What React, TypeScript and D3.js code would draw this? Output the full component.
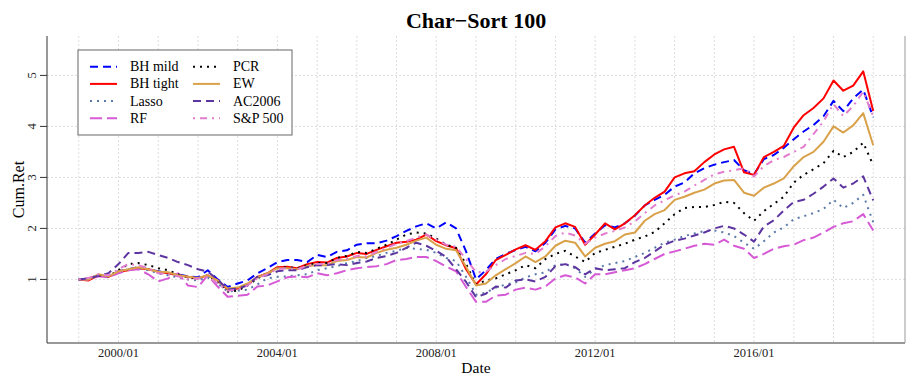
import React from 'react'
import * as d3 from 'd3'

const W = 913
const H = 381

// quarterly observations, 1999/01 .. 2019/01
const dates: Date[] = d3.timeMonth.every(3)!.range(new Date(1999, 0, 1), new Date(2019, 0, 2))

const bhMild = [
  1.00, 1.00, 1.08, 1.06, 1.16, 1.20, 1.24, 1.20, 1.16, 1.12, 1.10, 1.06, 1.04, 1.18, 1.00, 0.85,
  0.92, 0.98, 1.12, 1.22, 1.34, 1.38, 1.38, 1.34, 1.48, 1.44, 1.54, 1.57, 1.68, 1.71, 1.71, 1.76,
  1.85, 1.95, 2.04, 2.10, 2.00, 2.12, 2.00, 1.55, 1.00, 1.18, 1.40, 1.50, 1.58, 1.64, 1.55, 1.72,
  1.98, 2.05, 2.00, 1.72, 1.90, 2.06, 2.02, 2.10, 2.25, 2.45, 2.56, 2.66, 2.82, 2.90, 3.08, 3.18,
  3.25, 3.30, 3.34, 3.14, 3.06, 3.36, 3.44, 3.58, 3.75, 3.90, 4.03, 4.20, 4.50, 4.30, 4.55, 4.72,
  4.18,
]
const bhTight = [
  1.00, 0.98, 1.08, 1.05, 1.15, 1.18, 1.22, 1.20, 1.15, 1.12, 1.08, 1.05, 1.02, 1.08, 0.98, 0.80,
  0.82, 0.90, 1.05, 1.12, 1.24, 1.25, 1.22, 1.30, 1.34, 1.33, 1.42, 1.45, 1.52, 1.50, 1.58, 1.65,
  1.72, 1.74, 1.78, 1.88, 1.75, 1.67, 1.61, 1.20, 0.90, 1.10, 1.38, 1.48, 1.59, 1.67, 1.58, 1.75,
  2.02, 2.10, 2.03, 1.68, 1.88, 2.10, 1.98, 2.10, 2.26, 2.45, 2.60, 2.72, 3.00, 3.08, 3.12, 3.30,
  3.45, 3.55, 3.60, 3.10, 3.05, 3.40, 3.50, 3.62, 3.98, 4.22, 4.36, 4.55, 4.90, 4.70, 4.80, 5.08,
  4.30,
]
const lasso = [
  1.00, 1.00, 1.08, 1.05, 1.14, 1.20, 1.22, 1.18, 1.12, 1.08, 1.04, 1.00, 0.98, 1.04, 0.92, 0.76,
  0.78, 0.80, 0.90, 1.02, 1.05, 1.06, 1.08, 1.10, 1.18, 1.22, 1.26, 1.32, 1.36, 1.42, 1.46, 1.52,
  1.56, 1.62, 1.60, 1.58, 1.52, 1.42, 1.36, 1.05, 0.70, 0.74, 0.84, 0.90, 0.94, 1.04, 1.10, 1.14,
  1.28, 1.30, 1.22, 1.05, 1.20, 1.28, 1.32, 1.36, 1.44, 1.52, 1.62, 1.72, 1.78, 1.85, 1.90, 1.95,
  1.96, 1.92, 1.85, 1.72, 1.60, 1.75, 1.92, 2.02, 2.18, 2.24, 2.30, 2.38, 2.56, 2.40, 2.50, 2.66,
  2.12,
]
const rf = [
  1.00, 1.00, 1.06, 1.04, 1.12, 1.18, 1.20, 1.10, 0.96, 1.02, 1.12, 0.88, 0.85, 1.08, 0.86, 0.66,
  0.68, 0.70, 0.86, 0.88, 0.96, 1.04, 1.06, 1.04, 1.12, 1.08, 1.12, 1.18, 1.22, 1.24, 1.26, 1.30,
  1.38, 1.40, 1.44, 1.44, 1.36, 1.25, 1.16, 0.85, 0.56, 0.56, 0.68, 0.70, 0.80, 0.84, 0.80, 0.86,
  1.02, 1.08, 1.04, 0.92, 1.10, 1.10, 1.14, 1.18, 1.22, 1.30, 1.40, 1.50, 1.55, 1.60, 1.66, 1.70,
  1.68, 1.78, 1.66, 1.60, 1.42, 1.50, 1.60, 1.65, 1.68, 1.77, 1.82, 1.92, 2.03, 2.10, 2.14, 2.28,
  1.96,
]
const pcr = [
  1.00, 1.02, 1.08, 1.06, 1.18, 1.30, 1.32, 1.28, 1.22, 1.18, 1.10, 1.04, 1.02, 1.08, 0.95, 0.76,
  0.78, 0.88, 1.02, 1.12, 1.22, 1.24, 1.22, 1.28, 1.32, 1.32, 1.42, 1.46, 1.54, 1.52, 1.60, 1.68,
  1.78, 1.88, 1.92, 1.90, 1.80, 1.68, 1.62, 1.30, 0.90, 0.98, 1.02, 1.10, 1.18, 1.28, 1.22, 1.40,
  1.50, 1.56, 1.45, 1.34, 1.52, 1.58, 1.64, 1.70, 1.78, 1.84, 1.93, 2.10, 2.28, 2.40, 2.42, 2.42,
  2.46, 2.52, 2.50, 2.30, 2.15, 2.34, 2.48, 2.62, 2.90, 3.05, 3.16, 3.28, 3.52, 3.40, 3.50, 3.68,
  3.24,
]
const ew = [
  1.00, 1.00, 1.10, 1.06, 1.16, 1.20, 1.24, 1.20, 1.15, 1.14, 1.08, 1.05, 1.03, 1.08, 0.98, 0.82,
  0.84, 0.92, 1.04, 1.12, 1.22, 1.22, 1.20, 1.26, 1.28, 1.28, 1.36, 1.38, 1.44, 1.43, 1.52, 1.58,
  1.62, 1.68, 1.76, 1.82, 1.68, 1.60, 1.57, 1.25, 0.88, 0.92, 1.08, 1.20, 1.32, 1.45, 1.34, 1.45,
  1.66, 1.76, 1.72, 1.45, 1.62, 1.70, 1.75, 1.88, 1.92, 2.15, 2.28, 2.36, 2.56, 2.62, 2.70, 2.76,
  2.88, 2.94, 2.95, 2.70, 2.64, 2.80, 2.88, 2.98, 3.22, 3.40, 3.50, 3.70, 4.00, 3.88, 4.02, 4.26,
  3.63,
]
const ac2006 = [
  1.00, 1.02, 1.07, 1.12, 1.30, 1.52, 1.52, 1.54, 1.48, 1.42, 1.34, 1.28, 1.20, 1.15, 1.00, 0.80,
  0.82, 0.88, 1.05, 1.08, 1.16, 1.18, 1.18, 1.24, 1.28, 1.28, 1.30, 1.28, 1.32, 1.35, 1.42, 1.46,
  1.52, 1.62, 1.72, 1.66, 1.56, 1.44, 1.20, 0.95, 0.65, 0.72, 0.86, 0.84, 0.98, 1.00, 0.96, 1.05,
  1.26, 1.30, 1.24, 1.10, 1.22, 1.18, 1.20, 1.22, 1.34, 1.42, 1.55, 1.68, 1.76, 1.80, 1.86, 1.92,
  2.00, 2.05, 2.00, 1.88, 1.74, 2.04, 2.16, 2.35, 2.52, 2.56, 2.68, 2.82, 2.98, 2.80, 2.88, 3.02,
  2.55,
]
const sp500 = [
  1.00, 1.03, 1.10, 1.08, 1.20, 1.30, 1.28, 1.22, 1.12, 1.10, 1.06, 1.00, 1.02, 1.05, 0.92, 0.78,
  0.80, 0.88, 1.02, 1.10, 1.20, 1.22, 1.20, 1.26, 1.30, 1.30, 1.38, 1.40, 1.46, 1.45, 1.54, 1.62,
  1.70, 1.75, 1.82, 1.88, 1.78, 1.68, 1.64, 1.40, 1.14, 1.15, 1.28, 1.40, 1.46, 1.52, 1.50, 1.65,
  1.85, 1.92, 1.86, 1.70, 1.82, 1.90, 1.95, 2.02, 2.14, 2.30, 2.45, 2.55, 2.65, 2.72, 2.84, 2.95,
  3.06, 3.11, 3.14, 3.18, 3.02, 3.22, 3.34, 3.40, 3.50, 3.60, 3.85, 4.10, 4.44, 4.20, 4.40, 4.68,
  4.20,
]

const seriesNames = ['BH mild', 'BH tight', 'Lasso', 'RF', 'PCR', 'EW', 'AC2006', 'S&P 500']
const seriesValues = [bhMild, bhTight, lasso, rf, pcr, ew, ac2006, sp500]
const seriesColors = ['#0000ff', '#ff0000', '#5a78a8', '#d65ad6', '#000000', '#d9a24a', '#5d35a0', '#e27cce']
const seriesDash = ['8,5', null, '2,5', '12,5', '2,5', null, '8,5', '2,5,7,5']

const yTicks = [1, 2, 3, 4, 5]
const xTickYears = [2000, 2004, 2008, 2012, 2016]
const gridYears = d3.range(1999, 2020)

export default function App() {
  const left = 47
  const right = 905
  const top = 36
  const bottom = 343

  const t0 = dates[0].getTime()
  const t1 = dates[dates.length - 1].getTime()
  const pad = (t1 - t0) * 0.04
  const x = d3.scaleTime().domain([new Date(t0 - pad), new Date(t1 + pad)]).range([left, right])
  const y = d3.scaleLinear().domain([-0.247, 5.773]).range([bottom, top])

  const line = d3.line<number>()
    .x((_, i) => x(dates[i]))
    .y(d => y(d))

  const fmt = d3.timeFormat('%Y/%m')
  const font = '"Liberation Serif", "Times New Roman", serif'

  const legX = 78
  const legY = 50
  const rowH = 17.2
  const colW = 103

  return (
    <svg width={W} height={H} style={{ position: 'absolute', left: 0, top: 0 }} fontFamily={font}>
      <rect width={W} height={H} fill="#fff" />
      <text x={(left + right) / 2} y={28} textAnchor="middle" fontSize={22} fontWeight="bold">
        Char−Sort 100
      </text>

      {/* grid */}
      <g stroke="#dddddd" strokeWidth={1} strokeDasharray="2,2">
        {yTicks.map(t => (
          <line key={'gy' + t} x1={left} x2={right} y1={y(t)} y2={y(t)} />
        ))}
        {gridYears.map(yr => (
          <line key={'gx' + yr} x1={x(new Date(yr, 0, 1))} x2={x(new Date(yr, 0, 1))} y1={top} y2={bottom} />
        ))}
      </g>

      {/* series */}
      <g fill="none" strokeLinejoin="round">
        {seriesValues.map((vals, i) => (
          <path
            key={seriesNames[i]}
            d={line(vals) || ''}
            stroke={seriesColors[i]}
            strokeWidth={2}
            strokeDasharray={seriesDash[i] || undefined}
          />
        ))}
      </g>

      {/* axes */}
      <line x1={left} x2={left} y1={top} y2={bottom} stroke="#333" />
      <line x1={left} x2={right} y1={bottom} y2={bottom} stroke="#333" />
      <line x1={right} x2={right} y1={top} y2={bottom} stroke="#999" />
      {yTicks.map(t => (
        <g key={'yt' + t} transform={`translate(${left},${y(t)})`}>
          <line x1={-7} x2={0} stroke="#333" />
          <text transform="translate(-11.5,0) rotate(-90)" textAnchor="middle" fontSize={12.5} fill="#222">
            {t}
          </text>
        </g>
      ))}
      {xTickYears.map(yr => (
        <text key={'xt' + yr} x={x(new Date(yr, 0, 1))} y={357} textAnchor="middle" fontSize={12.5} fill="#222">
          {fmt(new Date(yr, 0, 1))}
        </text>
      ))}
      <text x={(left + right) / 2} y={373} textAnchor="middle" fontSize={15.5}>
        Date
      </text>
      <text transform={`translate(24,${(top + bottom) / 2}) rotate(-90)`} textAnchor="middle" fontSize={16}>
        Cum.Ret
      </text>

      {/* legend */}
      <rect x={legX} y={legY} width={214} height={85} fill="#fff" stroke="#666" />
      {seriesNames.map((name, i) => {
        const col = Math.floor(i / 4)
        const row = i % 4
        const lx = legX + 12 + col * colW
        const ly = legY + 16.7 + row * rowH
        return (
          <g key={'lg' + name}>
            <line
              x1={lx}
              x2={lx + 27}
              y1={ly}
              y2={ly}
              stroke={seriesColors[i]}
              strokeWidth={2}
              strokeDasharray={seriesDash[i] || undefined}
            />
            <text x={lx + 40} y={ly + 4.5} fontSize={14}>
              {name}
            </text>
          </g>
        )
      })}
    </svg>
  )
}
